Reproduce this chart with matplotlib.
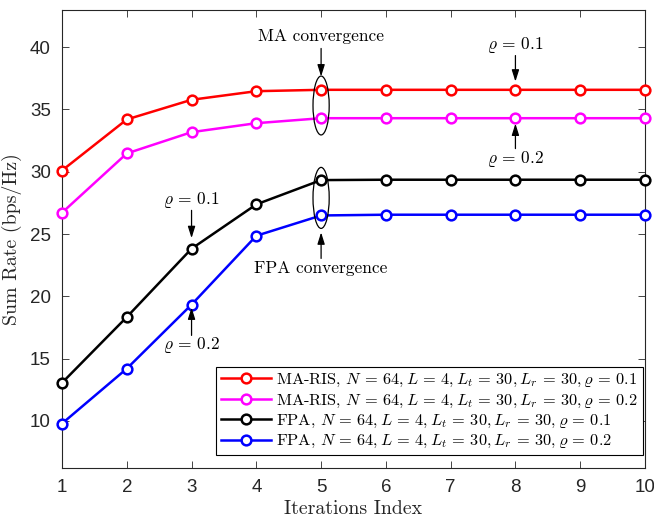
import matplotlib
matplotlib.use("Agg")
import matplotlib.pyplot as plt
from matplotlib.patches import Ellipse

plt.rcParams['font.family'] = 'serif'
plt.rcParams['font.serif'] = ['cmr10', 'DejaVu Serif']
plt.rcParams['mathtext.fontset'] = 'cm'
plt.rcParams['axes.unicode_minus'] = False

# datos de la tasa suma por iteracion
iteraciones = [1, 2, 3, 4, 5, 6, 7, 8, 9, 10]
ma_rho01 = [30.1, 34.2, 35.78, 36.47, 36.58, 36.58, 36.58, 36.58, 36.58, 36.58]
ma_rho02 = [26.71, 31.47, 33.18, 33.9, 34.3, 34.3, 34.3, 34.3, 34.3, 34.3]
fpa_rho01 = [13.05, 18.33, 23.82, 27.38, 29.33, 29.36, 29.36, 29.36, 29.36, 29.36]
fpa_rho02 = [9.78, 14.19, 19.33, 24.86, 26.49, 26.55, 26.55, 26.55, 26.55, 26.55]

params = r'$N\,=\,64, L\,=\,4, L_t\,=\,30, L_r\,=\,30, \varrho\,=\,'
etiquetas = [
    'MA-RIS, ' + params + '0.1$',
    'MA-RIS, ' + params + '0.2$',
    'FPA, ' + params + '0.1$',
    'FPA, ' + params + '0.2$',
]
colores = ['#ff0000', '#ff00ff', '#000000', '#0000ff']
series = [ma_rho01, ma_rho02, fpa_rho01, fpa_rho02]

fig = plt.figure(figsize=(6.54, 5.19), dpi=100)
ax = fig.add_axes([0.0948, 0.098, 0.8914, 0.883])

for datos, color, etiqueta in zip(series, colores, etiquetas):
    ax.plot(iteraciones, datos, color=color, lw=1.8, marker='o', markersize=7,
            markerfacecolor='white', markeredgewidth=1.8, label=etiqueta,
            clip_on=False, zorder=3)

ax.set_xlim(1, 10)
ax.set_ylim(6.2, 43)
ax.set_xticks(iteraciones)
ax.set_yticks([10, 15, 20, 25, 30, 35, 40])
ax.tick_params(direction='in', top=True, right=True, length=5, width=0.6,
               colors='#262626', labelsize=13.5, pad=8)
for lab in ax.get_xticklabels() + ax.get_yticklabels():
    lab.set_fontfamily('Liberation Sans')
    lab.set_color('#262626')
for sp in ax.spines.values():
    sp.set_linewidth(0.8)
    sp.set_color('#262626')

ax.set_xlabel(r'Iterations Index', fontsize=14.3, color='#262626', labelpad=3)
ax.set_ylabel(r'Sum Rate (bps/Hz)', fontsize=14.3, color='#262626', labelpad=6)

# elipses de convergencia
ax.add_patch(Ellipse((5, 35.32), 0.25, 4.73, fill=False, lw=0.9, ec='black', zorder=4))
ax.add_patch(Ellipse((5, 27.9), 0.25, 4.9, fill=False, lw=0.9, ec='black', zorder=4))

flecha = dict(arrowstyle='-|>,head_length=0.7,head_width=0.22', color='black',
              lw=0.9, shrinkA=0, shrinkB=0)

def anotar(texto, x, y_txt, y0, y1):
    ax.annotate('', xy=(x, y1), xytext=(x, y0), arrowprops=flecha, zorder=5)
    ax.text(x, y_txt, texto, ha='center', va='center', fontsize=12.5)

anotar('MA convergence', 5, 40.85, 39.9, 37.65)
anotar('FPA convergence', 5, 22.24, 23.04, 25.13)
anotar(r'$\varrho\,=\,0.1$', 8, 40.2, 39.33, 37.24)
anotar(r'$\varrho\,=\,0.2$', 8, 30.99, 31.86, 33.87)
anotar(r'$\varrho\,=\,0.1$', 3, 27.7, 26.9, 24.67)
anotar(r'$\varrho\,=\,0.2$', 3, 16.06, 16.86, 19.1)

leg = ax.legend(loc='lower right', bbox_to_anchor=(0.9966, 0.028), borderaxespad=0,
                fontsize=11.8, handlelength=3.1, fancybox=False, framealpha=1,
                edgecolor='black', labelspacing=0.2, borderpad=0.3,
                handletextpad=0.3)
leg.get_frame().set_linewidth(0.8)

fig.savefig('out.png', dpi=100)
